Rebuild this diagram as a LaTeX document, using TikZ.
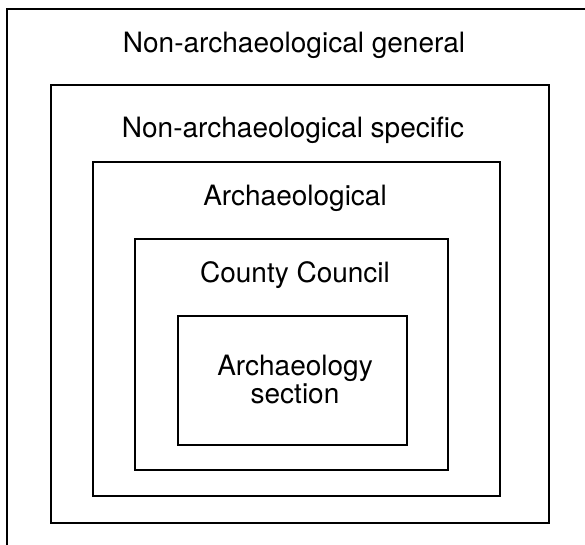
\documentclass[tikz,border=0pt]{standalone}
\usepackage{fontspec}
\setmainfont{TeX Gyre Heros}
\begin{document}
\begin{tikzpicture}[x=1pt,y=-1pt,
  frame/.style={draw=black,line width=1.7pt,inner sep=0pt,anchor=north west},
  label/.style={font=\fontsize{28}{28}\selectfont,anchor=base,inner sep=0pt,align=center}]
\useasboundingbox (0,0) rectangle (585,544);
% nested boxes (the outermost runs off the page at right and bottom)
\begin{scope}
\clip (0,0) rectangle (585,544);
\node[frame,minimum width=600pt,minimum height=560pt] (general) at (6,8) {};
\end{scope}
\node[frame,minimum width=498pt,minimum height=438pt] (specific) at (50,84) {};
\node[frame,minimum width=407pt,minimum height=334pt] (arch) at (92,161) {};
\node[frame,minimum width=313pt,minimum height=231pt] (council) at (134,238) {};
\node[frame,minimum width=229pt,minimum height=129pt] (section) at (177,315) {};
% labels
\node[label] (tgeneral) at (294,52) {Non-archaeological general};
\node[label] (tspecific) at (293,137) {Non-archaeological specific};
\node[label] (tarch) at (295,205) {Archaeological};
\node[label] (tcouncil) at (295,282) {County Council};
\node[label] (tsection1) at (295,375) {Archaeology};
\node[label] (tsection2) at (295,403) {section};
\end{tikzpicture}
\end{document}
